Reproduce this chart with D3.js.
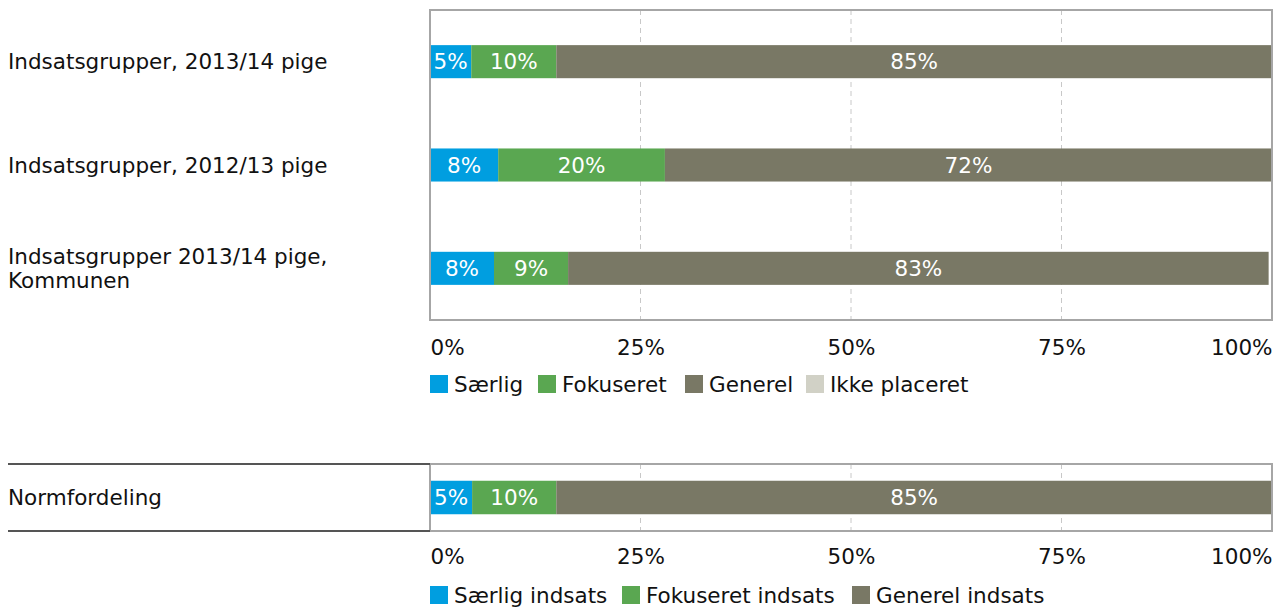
<!DOCTYPE html>
<html>
<head>
<meta charset="utf-8">
<script src="https://cdn.jsdelivr.net/npm/d3@7"></script>
<style>
  body { margin: 0; background: #fff; }
  svg text { font-family: "DejaVu Sans", Verdana, sans-serif; }
</style>
</head>
<body>
<div class="chart"></div>
<script>
// Data
var groups = ['Indsatsgrupper, 2013/14 pige', 'Indsatsgrupper, 2012/13 pige', 'Indsatsgrupper 2013/14 pige,|Kommunen'];
var saerlig = [4.9, 8.1, 7.6];
var fokuseret = [10.1, 19.8, 8.8];
var generel = [85, 72.1, 83.2];
var ikkePlaceret = [0, 0, 0];
var topLegend = ['Særlig', 'Fokuseret', 'Generel', 'Ikke placeret'];

var normGroups = ['Normfordeling'];
var normSaerlig = [5];
var normFokuseret = [10];
var normGenerel = [85];
var normLegend = ['Særlig indsats', 'Fokuseret indsats', 'Generel indsats'];

var ticks = [0, 25, 50, 75, 100];
var colors = ['#009ee0', '#5aa751', '#797865', '#d1d1c6'];
var fontSize = '21.5px';

var width = 1274, height = 608;
var plotLeft = 430, plotRight = 1272;

var svg = d3.select('.chart').append('svg')
            .attr('width', width)
            .attr('height', height);

var xScale = d3.scaleLinear()
               .domain([0, 100])
               .range([plotLeft, plotRight]);

function drawPanel(opts) {
  var keys = opts.series.map(function(s, i) { return 'k' + i; });
  var rows = opts.groups.map(function(g, i) {
    var r = { name: g };
    opts.series.forEach(function(s, j) { r['k' + j] = s[i]; });
    return r;
  });
  var stacked = d3.stack().keys(keys)(rows);

  var yScale = d3.scaleBand()
                 .domain(opts.groups)
                 .range([opts.top, opts.bottom])
                 .paddingInner(opts.padding)
                 .paddingOuter(opts.padding / 2);

  var g = svg.append('g');

  // gridlines
  g.selectAll('line.grid')
   .data(ticks.slice(1, -1))
   .enter()
   .append('line')
   .attr('x1', function(d) { return xScale(d); })
   .attr('x2', function(d) { return xScale(d); })
   .attr('y1', opts.top)
   .attr('y2', opts.bottom)
   .style('stroke', '#c8c8c8')
   .style('stroke-width', 1)
   .style('stroke-dasharray', '5,4');

  // bars
  var layer = g.selectAll('g.layer')
               .data(stacked)
               .enter()
               .append('g')
               .style('fill', function(d, i) { return colors[i]; });

  layer.selectAll('rect')
       .data(function(d) { return d; })
       .enter()
       .append('rect')
       .attr('x', function(d) { return xScale(d[0]); })
       .attr('width', function(d) { return xScale(d[1]) - xScale(d[0]); })
       .attr('y', function(d) { return yScale(d.data.name); })
       .attr('height', yScale.bandwidth());

  layer.selectAll('text')
       .data(function(d) { return d.filter(function(p) { return p[1] - p[0] >= 1; }); })
       .enter()
       .append('text')
       .attr('x', function(d) { return (xScale(d[0]) + xScale(d[1])) / 2; })
       .attr('y', function(d) { return yScale(d.data.name) + yScale.bandwidth() / 2; })
       .attr('dy', '0.36em')
       .style('text-anchor', 'middle')
       .style('fill', '#fff')
       .style('font-size', fontSize)
       .text(function(d) { return Math.round(d[1] - d[0]) + '%'; });

  // frame
  g.append('rect')
   .attr('x', plotLeft)
   .attr('y', opts.top)
   .attr('width', plotRight - plotLeft)
   .attr('height', opts.bottom - opts.top)
   .style('fill', 'none')
   .style('stroke', '#a6a6a6')
   .style('stroke-width', 2);

  // category labels
  var labels = g.selectAll('text.cat')
                .data(opts.groups)
                .enter()
                .append('text')
                .attr('x', 8)
                .attr('y', function(d) { return yScale(d) + yScale.bandwidth() / 2; })
                .style('font-size', fontSize)
                .style('fill', '#111');
  labels.each(function(d) {
    var parts = d.split('|');
    var t = d3.select(this);
    parts.forEach(function(p, i) {
      t.append('tspan')
       .attr('x', 8)
       .attr('dy', i === 0 ? (0.36 - (parts.length - 1) * 0.55) + 'em' : '1.1em')
       .text(p);
    });
  });

  // x axis
  var xAxis = d3.axisBottom(xScale)
                .tickValues(ticks)
                .tickSize(0)
                .tickPadding(0)
                .tickFormat(function(d) { return d + '%'; });
  var ax = g.append('g')
            .attr('transform', 'translate(0,' + opts.axisY + ')')
            .call(xAxis);
  ax.select('.domain').remove();
  ax.selectAll('text')
    .attr('dy', 0)
    .attr('y', 0)
    .style('font-size', fontSize)
    .style('font-family', '"DejaVu Sans", Verdana, sans-serif')
    .style('fill', '#111')
    .style('text-anchor', function(d, i) { return i === 0 ? 'start' : (i === ticks.length - 1 ? 'end' : 'middle'); });

  // legend
  var lg = g.selectAll('g.legend')
            .data(opts.legend)
            .enter()
            .append('g')
            .attr('transform', function(d, i) { return 'translate(' + opts.legendX[i] + ',' + opts.legendY + ')'; });
  lg.append('rect')
    .attr('x', 0)
    .attr('y', -9)
    .attr('width', 18)
    .attr('height', 18)
    .style('fill', function(d, i) { return colors[i]; });
  lg.append('text')
    .attr('x', 24)
    .attr('dy', '0.36em')
    .style('font-size', fontSize)
    .style('fill', '#111')
    .text(function(d) { return d; });

  return g;
}

drawPanel({
  groups: groups,
  series: [saerlig, fokuseret, generel, ikkePlaceret],
  top: 10, bottom: 320, padding: 0.68,
  axisY: 355,
  legend: topLegend,
  legendX: [430, 538, 685, 806],
  legendY: 384
});

var norm = drawPanel({
  groups: normGroups,
  series: [normSaerlig, normFokuseret, normGenerel],
  top: 464, bottom: 531, padding: 0.5,
  axisY: 564,
  legend: normLegend,
  legendX: [430, 622, 852],
  legendY: 595
});

// left rules of the norm table
norm.selectAll('line.rule')
    .data([464, 531])
    .enter()
    .append('line')
    .attr('x1', 8)
    .attr('x2', plotLeft)
    .attr('y1', function(d) { return d; })
    .attr('y2', function(d) { return d; })
    .style('stroke', '#555')
    .style('stroke-width', 2);
</script>
</body>
</html>
